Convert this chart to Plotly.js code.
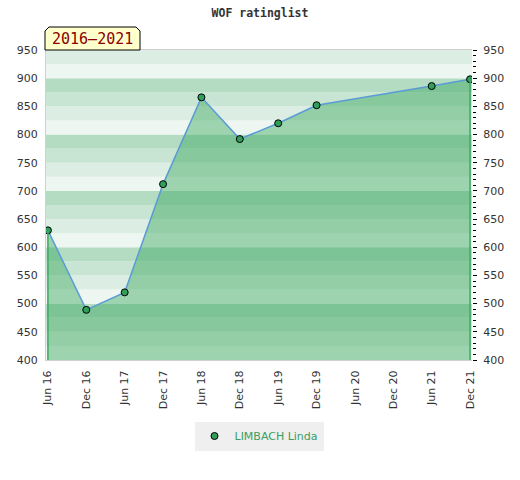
<!DOCTYPE html>
<html>
<head>
<meta charset="utf-8">
<script src="https://cdn.plot.ly/plotly-3.0.1.min.js"></script>
<style>html,body{margin:0;padding:0;background:#fff;}#chart{width:520px;height:480px;}</style>
</head>
<body>
<div id="chart"></div>
<script>
// ---- data ----
var xLabels = ['Jun 16','Dec 16','Jun 17','Dec 17','Jun 18','Dec 18','Jun 19','Dec 19','Jun 20','Dec 20','Jun 21','Dec 21'];
var rating  = [630, 489, 520, 712, 866, 792, 820, 852, null, null, 886, 898];
var seriesName = 'LIMBACH Linda';
var chartTitle = 'WOF ratinglist';
var periodLabel = '2016\u20132021';
var yMin = 400, yMax = 950;

// ---- layout helpers ----
var W = 520, H = 480, L = 46, R = 48, T = 50, B = 120;
var pw = W - L - R, ph = H - T - B;
function px(x){ return (x - L) / pw; }
function py(y){ return (H - B - y) / ph; }

var bandColors = ['#eef6f1', '#dcede3', '#c7e5d2', '#b3dcc3'];
var shapes = [];
for (var v = yMin, i = 0; v < yMax; v += 25, i++) {
  shapes.push({type:'rect', layer:'below', xref:'paper', yref:'y', x0:0, x1:1, y0:v, y1:v+25,
               fillcolor: bandColors[i % 4], line:{width:0}});
}
// fill edges
var firstIdx = 0, lastIdx = rating.length - 1;
shapes.push({type:'line', layer:'above', xref:'x', yref:'y', x0:firstIdx, x1:firstIdx, y0:yMin, y1:rating[firstIdx], line:{color:'#3aa862', width:1.5}});
shapes.push({type:'line', layer:'above', xref:'x', yref:'y', x0:lastIdx, x1:lastIdx, y0:yMin, y1:rating[lastIdx], line:{color:'#3aa862', width:1.5}});
// period tab
var path = 'M ' + px(45) + ' ' + py(50) + ' L ' + px(45) + ' ' + py(31) + ' L ' + px(49) + ' ' + py(27) +
           ' L ' + px(136) + ' ' + py(27) + ' L ' + px(140) + ' ' + py(31) + ' L ' + px(140) + ' ' + py(50) + ' Z';
shapes.push({type:'path', layer:'above', xref:'paper', yref:'paper', path: path,
             fillcolor:'#ffffcc', line:{color:'#000', width:1}});

var traces = [
  {x: xLabels, y: rating, type:'scatter', mode:'lines', fill:'tozeroy', connectgaps:true,
   fillcolor:'rgba(50,165,88,0.43)', line:{color:'#5b9bd5', width:1.5}, showlegend:false, hoverinfo:'skip'},
  {x: xLabels, y: rating, type:'scatter', mode:'markers', name: seriesName, yaxis:'y2',
   marker:{color:'#2e9e5a', size:7, line:{color:'#000', width:1}}}
];

var tickFont = {family:'DejaVu Sans', size:11, color:'#333'};
var layout = {
  width: W, height: H,
  margin: {l:L, r:R, t:T, b:B},
  paper_bgcolor:'#fff', plot_bgcolor:'#fff',
  title: {text:'<b>' + chartTitle + '</b>', font:{family:'DejaVu Sans Mono', size:11.5, color:'#333'},
          x:0.5, xref:'container', y:1 - 13/H, yref:'container', yanchor:'middle'},
  xaxis: {type:'category', range:[-0.05, 11.05], tickangle:-90, tickfont:tickFont, ticklabelstandoff:5,
          showline:true, linecolor:'#d0d0d0', linewidth:1, mirror:true, showgrid:false, zeroline:false, ticks:''},
  yaxis: {range:[yMin, yMax], dtick:50, tick0:0, tickfont:tickFont, showline:true, linecolor:'#d0d0d0',
          showgrid:false, zeroline:false, ticks:'', ticklabelstandoff:5},
  yaxis2: {range:[yMin, yMax], dtick:50, tick0:0, overlaying:'y', side:'right', tickfont:tickFont,
           showline:false, showgrid:false, zeroline:false, ticks:'outside', ticklen:4, tickcolor:'#000', tickwidth:1,
           ticklabelstandoff:4,
           minor:{dtick:10, ticks:'outside', ticklen:3, tickcolor:'#000', tickwidth:1}},
  shapes: shapes,
  annotations: [{xref:'paper', yref:'paper', x:px(92.5), y:py(39), text:periodLabel, showarrow:false,
                 font:{family:'DejaVu Sans Mono', size:15, color:'#8b0000'}, xanchor:'center', yanchor:'middle'}],
  showlegend: true,
  legend: {orientation:'h', x:0.5, xanchor:'center', y:py(436), yanchor:'middle', bgcolor:'#efefef',
           itemwidth:30, font:{family:'DejaVu Sans', size:11, color:'#3a9e5e'}}
};

Plotly.newPlot('chart', traces, layout, {displayModeBar:false, staticPlot:true});
</script>
</body>
</html>
